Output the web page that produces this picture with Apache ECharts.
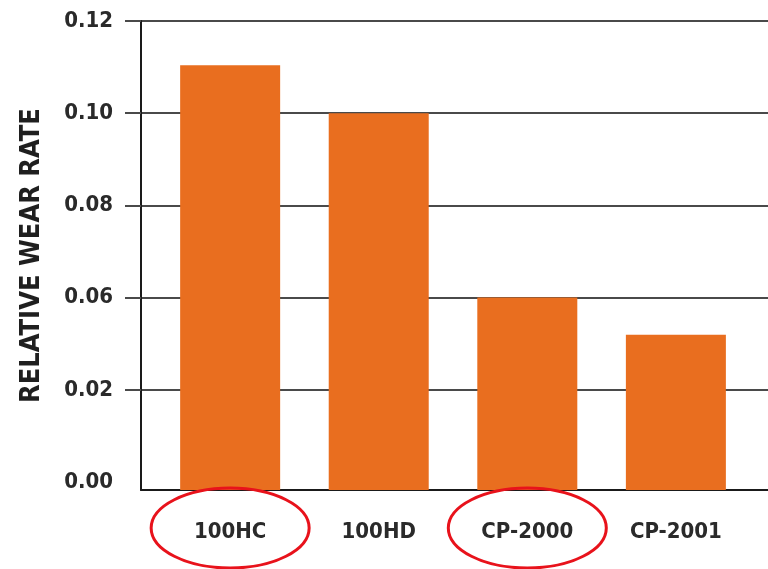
<!DOCTYPE html>
<html>
<head>
<meta charset="utf-8">
<script src="https://cdn.jsdelivr.net/npm/echarts@6/dist/echarts.min.js"></script>
<style>
  html, body { margin: 0; padding: 0; background: #ffffff; }
  #chart { width: 768px; height: 569px; }
</style>
</head>
<body>
<div id="chart"></div>
<script>
// ---- data ----
const categories = ["100HC", "100HD", "CP-2000", "CP-2001"];
const wearRate = [0.1085, 0.096, 0.048, 0.0383];
const yTickValues = [0, 0.024, 0.048, 0.072, 0.096, 0.12];
const yTickLabels = ["0.00", "0.02", "0.06", "0.08", "0.10", "0.12"];
const circled = ["100HC", "CP-2000"];
const yTitle = "RELATIVE WEAR RATE";

const FONT = "'DejaVu Sans Condensed', 'Liberation Sans Narrow', sans-serif";
const chart = echarts.init(document.getElementById('chart'), null, { renderer: 'canvas' });

const barData = wearRate.map((v, i) => [i, v]);
const catIdx = categories.map((c, i) => i);

chart.setOption({
  animation: false,
  backgroundColor: '#ffffff',
  grid: { left: 141, right: 0, top: 21, bottom: 79, containLabel: false },
  xAxis: {
    type: 'value',
    min: -0.6,
    max: 3.62,
    axisLine: { show: true, onZero: false, lineStyle: { color: '#1a1a1a', width: 2 } },
    axisTick: { show: false },
    splitLine: { show: false },
    axisLabel: {
      customValues: catIdx,
      formatter: v => categories[Math.round(v)],
      color: '#2a2a2a',
      fontFamily: FONT,
      fontSize: 22,
      fontWeight: 'bold',
      margin: 31
    }
  },
  yAxis: {
    type: 'value',
    min: -0.00208,
    max: 0.12,
    startValue: -0.00208,
    name: yTitle,
    nameLocation: 'middle',
    nameGap: 96,
    nameTextStyle: { color: '#1f1f1f', fontFamily: FONT, fontSize: 27, fontWeight: 'bold' },
    axisLine: { show: true, onZero: false, lineStyle: { color: '#1a1a1a', width: 2 } },
    axisTick: {
      show: true,
      customValues: yTickValues.slice(1),
      length: 16,
      lineStyle: { color: '#4a4a4a', width: 2 }
    },
    splitLine: { show: true, lineStyle: { color: '#4a4a4a', width: 2 } },
    axisLabel: {
      customValues: yTickValues,
      formatter: v => {
        const k = yTickValues.findIndex(t => Math.abs(t - v) < 1e-6);
        return k >= 0 ? yTickLabels[k] : '';
      },
      color: '#2a2a2a',
      fontFamily: FONT,
      fontSize: 22,
      fontWeight: 'bold',
      margin: 28
    }
  },
  series: [{
    type: 'bar',
    data: barData,
    barWidth: 100,
    itemStyle: { color: '#E96E1F' },
    z: 3
  }]
});

// red ellipses around the highlighted category labels
const labelCenterY = 528;
const ellipses = circled.map(name => {
  const i = categories.indexOf(name);
  const cx = chart.convertToPixel({ xAxisIndex: 0 }, i);
  return {
    type: 'ellipse',
    shape: { cx: cx, cy: labelCenterY, rx: 79, ry: 40 },
    style: { fill: null, stroke: '#E8121B', lineWidth: 3 },
    z: 100
  };
});
chart.setOption({ graphic: ellipses });
</script>
</body>
</html>
